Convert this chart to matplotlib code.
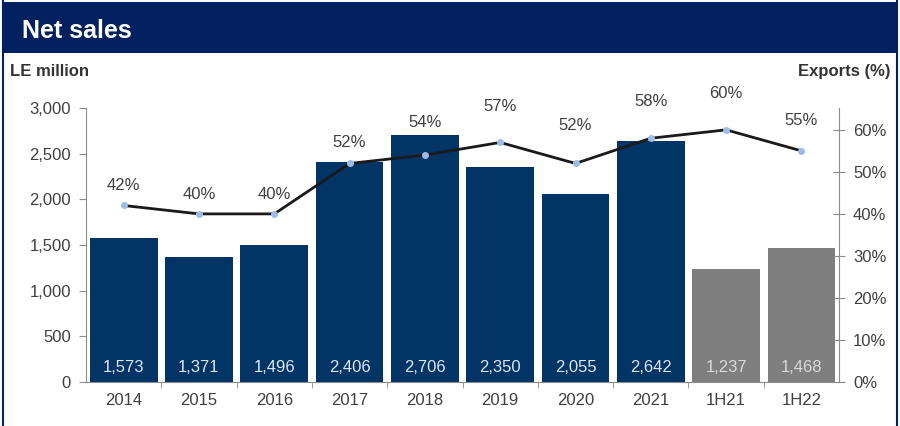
import matplotlib
matplotlib.use('Agg')
import matplotlib.pyplot as plt
from matplotlib.patches import Rectangle
from matplotlib.ticker import FuncFormatter, FixedLocator

plt.rcParams['font.family'] = ['Liberation Sans', 'DejaVu Sans']

periods = ['2014', '2015', '2016', '2017', '2018', '2019', '2020', '2021', '1H21', '1H22']
sales = [1573, 1371, 1496, 2406, 2706, 2350, 2055, 2642, 1237, 1468]
exports_pct = [42, 40, 40, 52, 54, 57, 52, 58, 60, 55]
is_half_year = [False] * 8 + [True] * 2

navy = '#03215e'
bar_navy = '#023466'
bar_gray = '#7f7f7f'
axis_gray = '#8c8c8c'
text_gray = '#404040'

# label offsets above the line points (pixels)
pct_offsets = [20, 19, 19, 21, 33, 36, 38, 37, 36, 30]

fig = plt.figure(figsize=(9, 4.26), dpi=100)

# header band and frame
fig.patches.append(Rectangle((0.002, 0.875), 0.995, 0.12, transform=fig.transFigure,
                             facecolor=navy, edgecolor='none'))
fig.add_artist(plt.Line2D([0.003, 0.003], [0, 1], transform=fig.transFigure, color=navy, lw=1.5))
fig.add_artist(plt.Line2D([0.997, 0.997], [0, 1], transform=fig.transFigure, color=navy, lw=1.5))
fig.text(0.024, 0.927, 'Net sales', color='white', fontsize=18, fontweight='bold', va='center')
fig.text(0.011, 0.832, 'LE million', color='#333333', fontsize=12, fontweight='bold', va='center')
fig.text(0.989, 0.832, 'Exports (%)', color='#333333', fontsize=12, fontweight='bold',
         va='center', ha='right')

ax = fig.add_axes([0.0956, 0.1033, 0.8367, 0.6432])
x = list(range(len(periods)))
colors = [bar_gray if h else bar_navy for h in is_half_year]
ax.bar(x, sales, width=0.9, color=colors, zorder=2)

for xi, v, h in zip(x, sales, is_half_year):
    ax.text(xi, 160, f'{v:,}', ha='center', va='center', fontsize=12,
            color='#d9d9d9' if h else '#dce6f4', zorder=3)

ax.set_xlim(-0.5, len(periods) - 0.5)
ax.set_ylim(0, 3000)
ax.set_yticks(range(0, 3001, 500))
ax.yaxis.set_major_formatter(FuncFormatter(lambda v, p: f'{int(v):,}'))
ax.set_xticks(x)
ax.set_xticklabels(periods)
ax.xaxis.set_minor_locator(FixedLocator([i + 0.5 for i in range(len(periods) - 1)]))
ax.tick_params(axis='x', which='major', length=0, pad=8, labelsize=12, labelcolor=text_gray)
ax.tick_params(axis='x', which='minor', length=4, color=axis_gray, direction='out')
ax.tick_params(axis='y', length=5, color=axis_gray, labelsize=12, labelcolor=text_gray, pad=6)
for side in ['top', 'right']:
    ax.spines[side].set_visible(False)
ax.spines['left'].set_color(axis_gray)
ax.spines['bottom'].set_color(axis_gray)

ax2 = ax.twinx()
ax2.set_ylim(0, 65.2)
ax2.set_yticks(range(0, 61, 10))
ax2.yaxis.set_major_formatter(FuncFormatter(lambda v, p: f'{int(v)}%'))
ax2.tick_params(axis='y', direction='inout', length=8, color=axis_gray,
                labelsize=12, labelcolor=text_gray, pad=6)
for side in ['top', 'left', 'bottom']:
    ax2.spines[side].set_visible(False)
ax2.spines['right'].set_color(axis_gray)
ax2.plot(x, exports_pct, color='#1a1a1a', lw=2, marker='o', markersize=4,
         markerfacecolor='#9dbde6', markeredgecolor='#9dbde6', zorder=4)
for xi, p, off in zip(x, exports_pct, pct_offsets):
    ax2.annotate(f'{p}%', (xi, p), textcoords='offset points', xytext=(0, off * 0.72),
                 ha='center', va='center', fontsize=12, color=text_gray)

fig.savefig('out.png', dpi=100)
